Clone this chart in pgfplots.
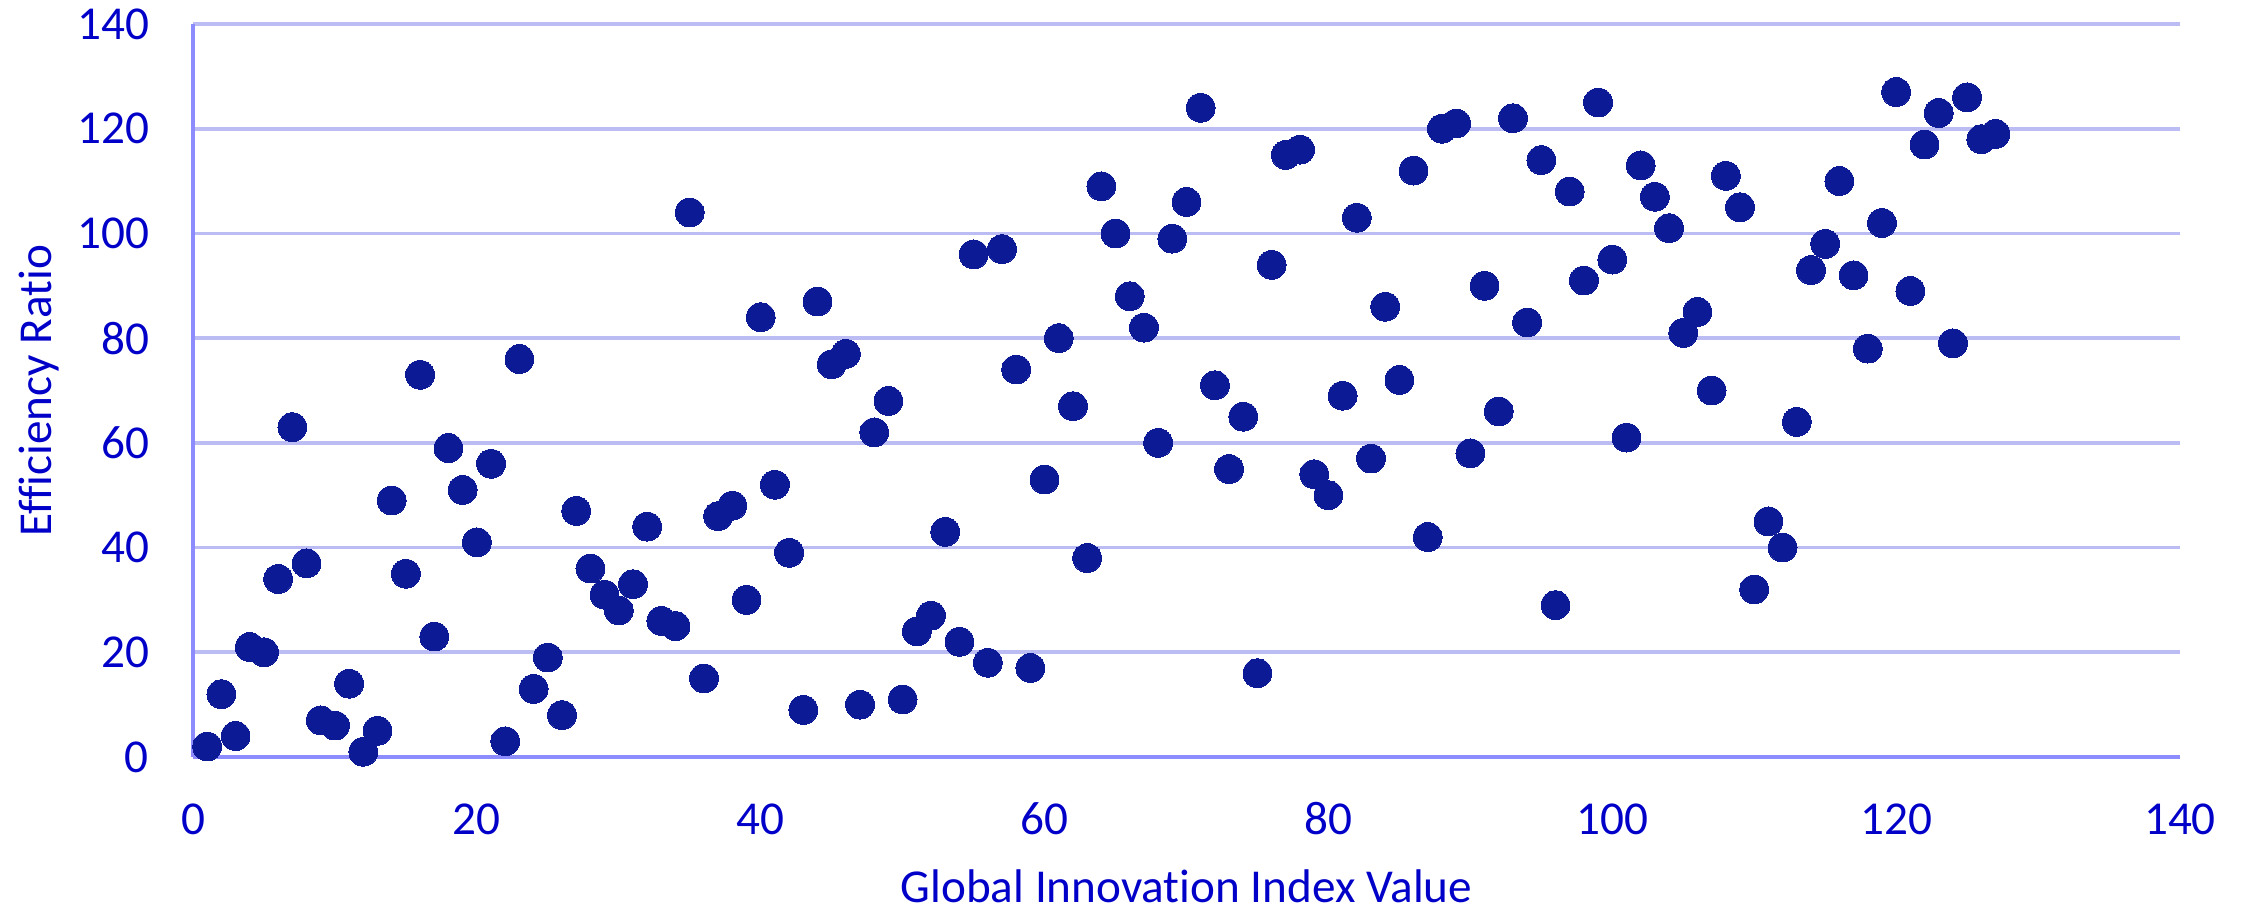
\documentclass[border=0pt]{standalone}
\usepackage{pgfplots}
\pgfplotsset{compat=1.18}
\usepackage{fontspec}
\setmainfont[Ligatures={NoCommon,NoDiscretionary}]{Carlito}
\definecolor{txtblue}{RGB}{0,0,200}
\definecolor{mkblue}{RGB}{12,26,150}
\definecolor{axblue}{RGB}{140,140,255}
\definecolor{grblue}{RGB}{188,188,245}
\pgfplotstableread{
x y
1 2
2 12
3 4
4 21
5 20
6 34
7 63
8 37
9 7
10 6
11 14
12 1
13 5
14 49
15 35
16 73
17 23
18 59
19 51
20 41
21 56
22 3
23 76
24 13
25 19
26 8
27 47
28 36
29 31
30 28
31 33
32 44
33 26
34 25
35 104
36 15
37 46
38 48
39 30
40 84
41 52
42 39
43 9
44 87
45 75
46 77
47 10
48 62
49 68
50 11
51 24
52 27
53 43
54 22
55 96
56 18
57 97
58 74
59 17
60 53
61 80
62 67
63 38
64 109
65 100
66 88
67 82
68 60
69 99
70 106
71 124
72 71
73 55
74 65
75 16
76 94
77 115
78 116
79 54
80 50
81 69
82 103
83 57
84 86
85 72
86 112
87 42
88 120
89 121
90 58
91 90
92 66
93 122
94 83
95 114
96 29
97 108
98 91
99 125
100 95
101 61
102 113
103 107
104 101
105 81
106 85
107 70
108 111
109 105
110 32
111 45
112 40
113 64
114 93
115 98
116 110
117 92
118 78
119 102
120 127
121 89
122 117
123 123
124 79
125 126
126 118
127 119
}\datatable
\begin{document}
\begin{tikzpicture}
\useasboundingbox (-48.25bp,-38bp) rectangle (512.75bp,189.25bp);
\begin{axis}[
  scale only axis,
  width=496.75bp, height=183.25bp,
  xmin=0, xmax=140, ymin=0, ymax=140,
  xtick={0,20,...,140}, ytick={0,20,...,140},
  axis x line=bottom, axis y line=left,
  axis line style={draw=axblue, line width=1.1bp, -},
  major tick length=0pt,
  ymajorgrids,
  grid style={draw=grblue, line width=0.9bp},
  font=\fontsize{11.8bp}{14bp}\selectfont,
  /pgf/number format/assume math mode=true,
  ticklabel style={text=txtblue, font=\fontsize{11.8bp}{14bp}\selectfont},
  xticklabel style={anchor=center, yshift=-15.5bp},
  yticklabel style={anchor=east, xshift=-7.5bp},
  xlabel={Global Innovation Index Value},
  ylabel={Efficiency Ratio},
  label style={text=txtblue},
  xlabel style={at={(axis description cs:0.5,-0.176)}, anchor=center},
  ylabel style={at={(axis description cs:-0.0775,0.5)}, anchor=center},
  clip=false,
]
\addplot[only marks, mark=*, mark size=3.6bp, mark options={fill=mkblue, draw=mkblue, line width=0pt}] table[x=x,y=y] {\datatable};
\end{axis}
\end{tikzpicture}
\end{document}
